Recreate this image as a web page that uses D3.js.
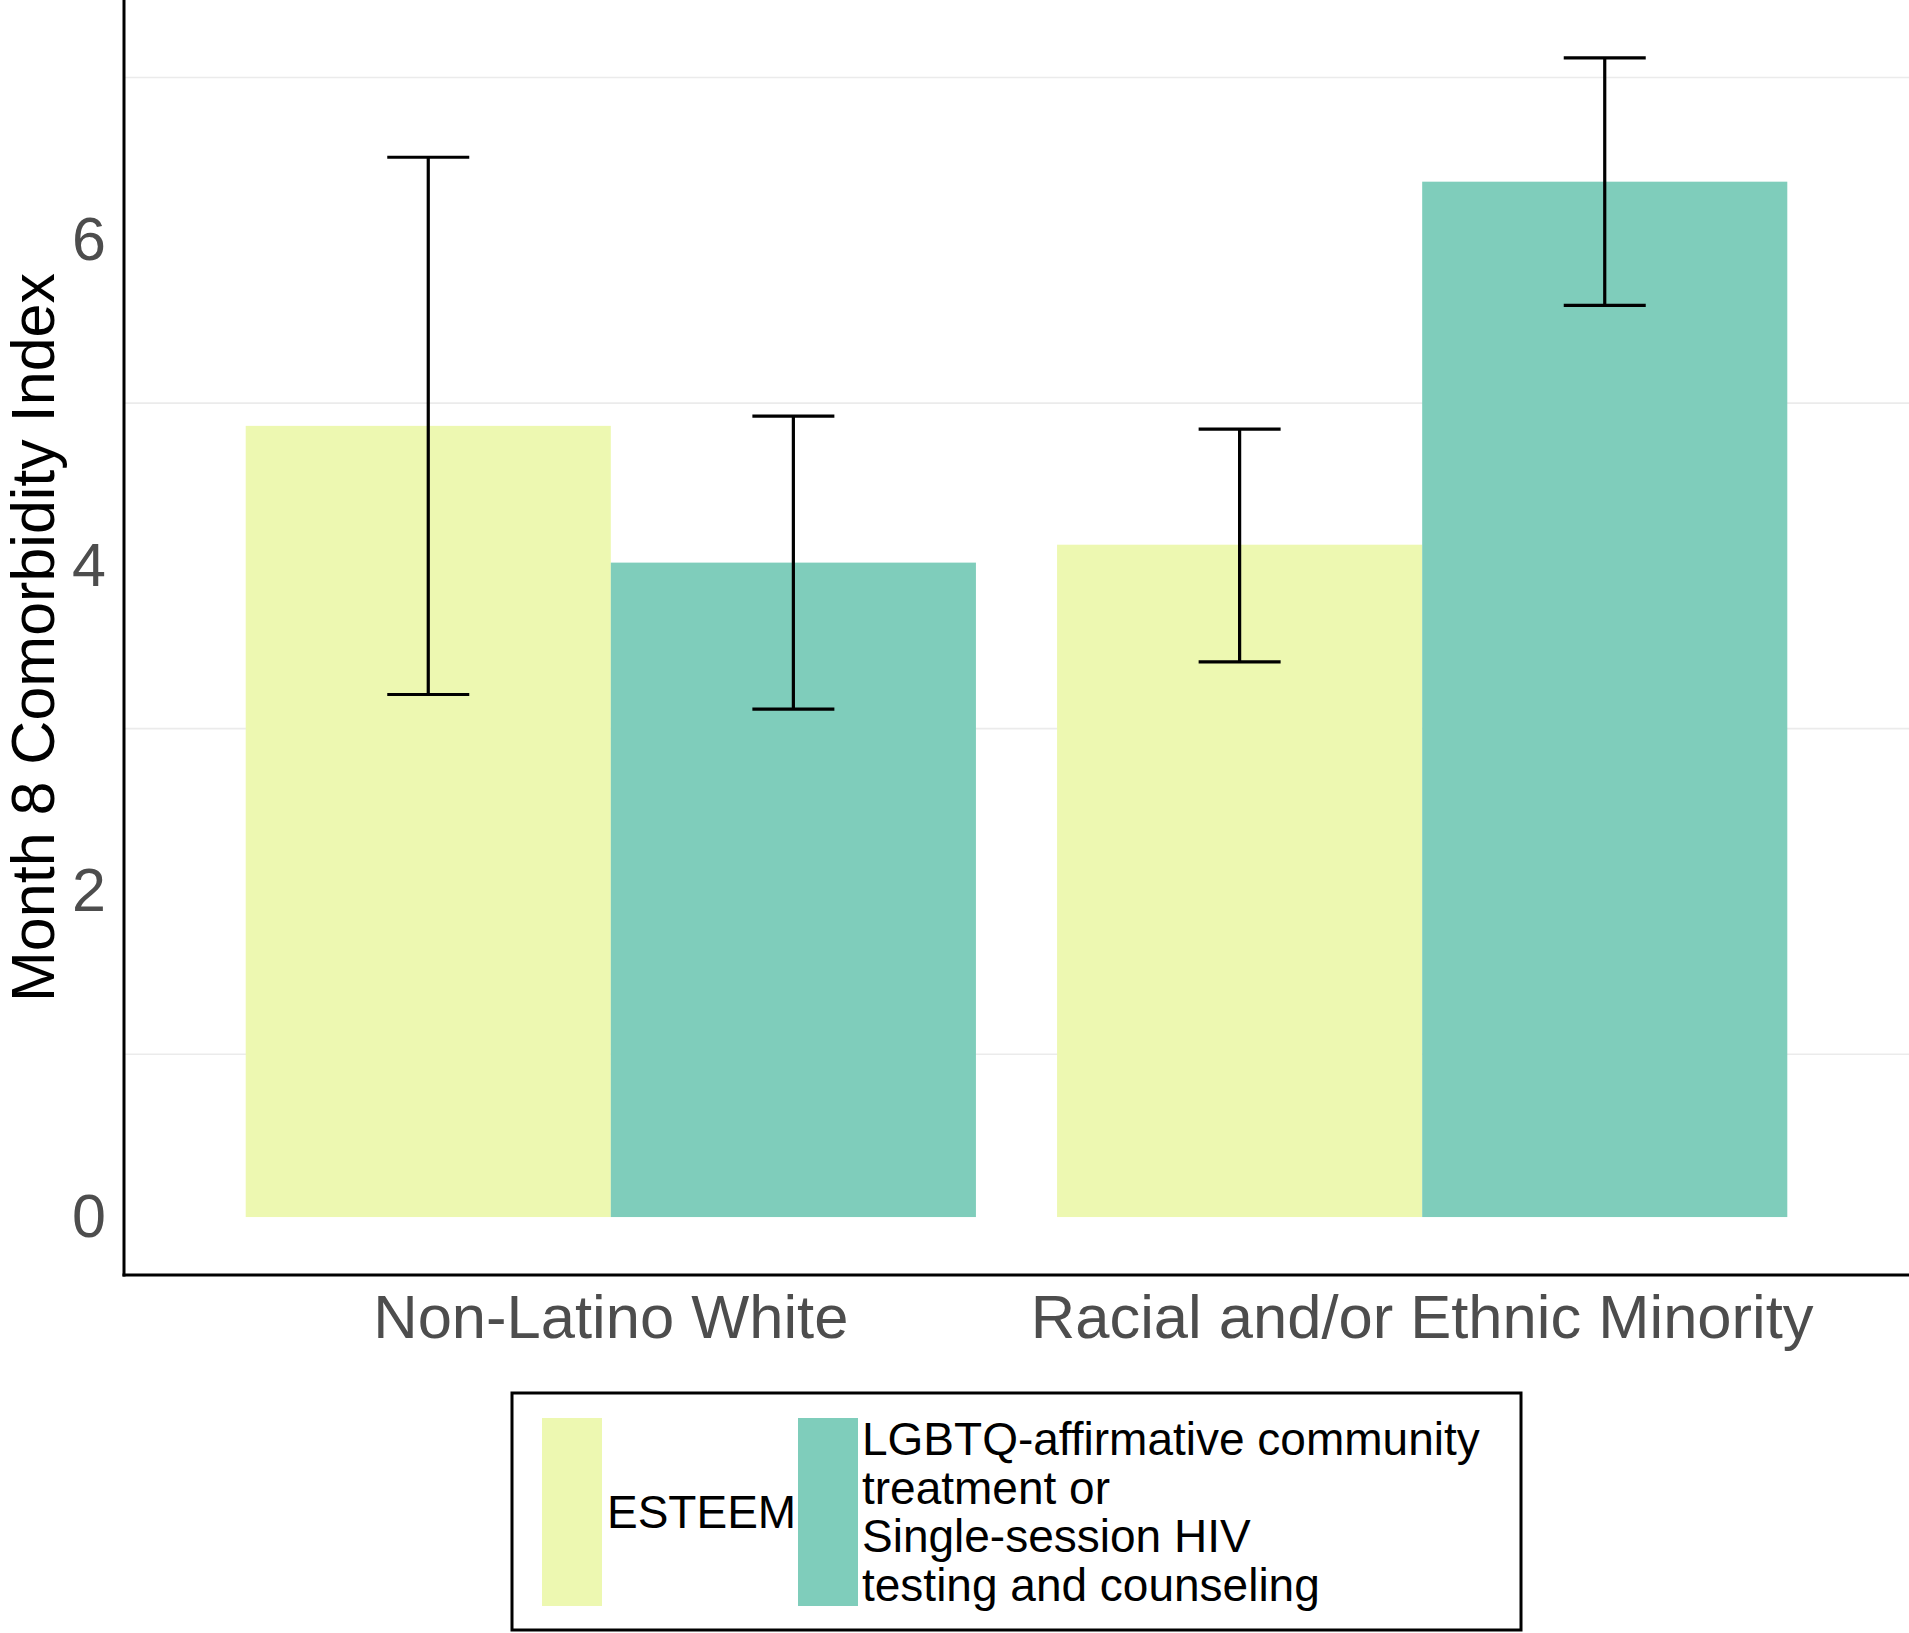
<!DOCTYPE html>
<html>
<head>
<meta charset="utf-8">
<script src="https://cdn.jsdelivr.net/npm/d3@7"></script>
<style>
  html, body { margin: 0; padding: 0; background: #ffffff; }
  svg { display: block; }
  text { font-family: "Liberation Sans", Arial, sans-serif; }
</style>
</head>
<body>
<svg id="chart" width="1909" height="1633"></svg>
<script>
// ---- data ----
const categories = ["Non-Latino White", "Racial and/or Ethnic Minority"];
const seriesNames = ["ESTEEM", "LGBTQ"];
const seriesLabels = [
  ["ESTEEM"],
  ["LGBTQ-affirmative community", "treatment or", "Single-session HIV", "testing and counseling"]
];
const seriesColors = ["#edf8b1", "#7fcdbb"];
const esteemMean = [4.86, 4.13];
const esteemLower = [3.21, 3.41];
const esteemUpper = [6.51, 4.84];
const lgbtqMean = [4.02, 6.36];
const lgbtqLower = [3.12, 5.60];
const lgbtqUpper = [4.92, 7.12];
const yTicks = [0, 2, 4, 6];
const yMinorGrid = [1, 3, 5, 7];
const yTitle = "Month 8 Comorbidity Index";

const rows = [];
categories.forEach((c, i) => {
  rows.push({cat: c, series: "ESTEEM", mean: esteemMean[i], lo: esteemLower[i], hi: esteemUpper[i]});
  rows.push({cat: c, series: "LGBTQ", mean: lgbtqMean[i], lo: lgbtqLower[i], hi: lgbtqUpper[i]});
});

// ---- layout ----
const svg = d3.select("#chart");
const panel = {left: 124, right: 1909, top: 0, bottom: 1275};

const dataMax = d3.max(rows, d => d.hi);
const dataMin = 0;
const pad = 0.05 * (dataMax - dataMin);
const y = d3.scaleLinear()
  .domain([dataMin - pad, dataMax + pad])
  .range([panel.bottom, panel.top]);

const x = d3.scaleBand()
  .domain(categories)
  .range([panel.left, panel.right])
  .paddingInner(0.1)
  .paddingOuter(0.15);
const xSub = d3.scaleBand()
  .domain(seriesNames)
  .range([0, x.bandwidth()]);
const color = d3.scaleOrdinal().domain(seriesNames).range(seriesColors);

// minor gridlines
svg.append("g").selectAll("line").data(yMinorGrid).join("line")
  .attr("x1", panel.left).attr("x2", panel.right)
  .attr("y1", d => y(d)).attr("y2", d => y(d))
  .attr("stroke", "#ebebeb").attr("stroke-width", 1.6);

// bars
svg.append("g").selectAll("rect").data(rows).join("rect")
  .attr("x", d => x(d.cat) + xSub(d.series))
  .attr("width", xSub.bandwidth())
  .attr("y", d => y(d.mean))
  .attr("height", d => y(0) - y(d.mean))
  .attr("fill", d => color(d.series));

// error bars
const capHalf = 41;
const eb = svg.append("g").attr("stroke", "#000").attr("stroke-width", 3.2).attr("fill", "none");
rows.forEach(d => {
  const cx = x(d.cat) + xSub(d.series) + xSub.bandwidth() / 2;
  eb.append("line").attr("x1", cx).attr("x2", cx).attr("y1", y(d.lo)).attr("y2", y(d.hi));
  eb.append("line").attr("x1", cx - capHalf).attr("x2", cx + capHalf).attr("y1", y(d.hi)).attr("y2", y(d.hi));
  eb.append("line").attr("x1", cx - capHalf).attr("x2", cx + capHalf).attr("y1", y(d.lo)).attr("y2", y(d.lo));
});

// y axis
const yAxis = d3.axisLeft(y).tickValues(yTicks).tickSize(0).tickPadding(18).tickFormat(d3.format("d"));
const gy = svg.append("g").attr("transform", `translate(${panel.left},0)`).call(yAxis);
gy.select(".domain").remove();
gy.selectAll("text").attr("font-size", 61).attr("fill", "#4d4d4d")
  .attr("font-family", "'Liberation Sans', Arial, sans-serif");

// x axis
const xAxis = d3.axisBottom(x).tickSize(0).tickPadding(20);
const gx = svg.append("g").attr("transform", `translate(0,${panel.bottom})`).call(xAxis);
gx.select(".domain").remove();
gx.selectAll("text").attr("font-size", 61.5).attr("fill", "#4d4d4d")
  .attr("font-family", "'Liberation Sans', Arial, sans-serif")
  .attr("dy", null).attr("y", 63);

// axis lines
svg.append("line").attr("x1", panel.left).attr("x2", panel.left)
  .attr("y1", panel.top).attr("y2", panel.bottom + 1.5)
  .attr("stroke", "#000").attr("stroke-width", 3);
svg.append("line").attr("x1", panel.left - 1.5).attr("x2", panel.right)
  .attr("y1", panel.bottom).attr("y2", panel.bottom)
  .attr("stroke", "#000").attr("stroke-width", 3);

// y title
svg.append("text")
  .attr("transform", `translate(54,${(panel.top + panel.bottom) / 2}) rotate(-90)`)
  .attr("text-anchor", "middle")
  .attr("font-size", 61).attr("fill", "#000")
  .text(yTitle);

// legend
const lg = svg.append("g");
lg.append("rect").attr("x", 512).attr("y", 1393).attr("width", 1009).attr("height", 237)
  .attr("fill", "#fff").attr("stroke", "#000").attr("stroke-width", 3);
const keyX = [542, 798];
const textX = [607, 862];
seriesNames.forEach((s, i) => {
  lg.append("rect").attr("x", keyX[i]).attr("y", 1418).attr("width", 60).attr("height", 188)
    .attr("fill", color(s));
  const lines = seriesLabels[i];
  const lineH = 48.5;
  const centerY = 1512;
  const t = lg.append("text").attr("x", textX[i]).attr("font-size", 46).attr("fill", "#000");
  lines.forEach((ln, j) => {
    t.append("tspan").attr("x", textX[i])
      .attr("y", centerY + (j - (lines.length - 1) / 2) * lineH + 16)
      .text(ln);
  });
});
</script>
</body>
</html>
